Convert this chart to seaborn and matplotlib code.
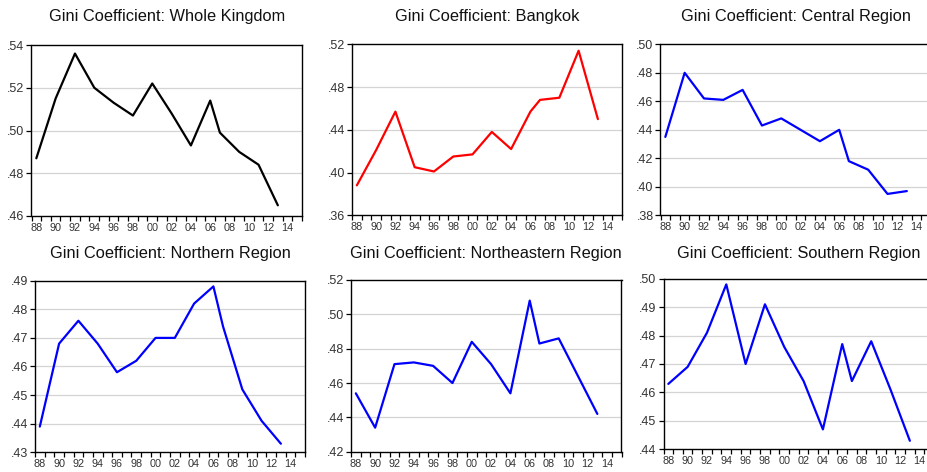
import matplotlib
matplotlib.use("Agg")
import matplotlib.pyplot as plt
import seaborn as sns
import pandas as pd
import numpy as np

sns.set_theme(style="white")
plt.rcParams['font.family'] = ['Liberation Sans', 'DejaVu Sans']

years = [1988, 1990, 1992, 1994, 1996, 1998, 2000, 2002, 2004, 2006, 2007, 2009, 2011, 2013]

whole_kingdom = [0.487, 0.515, 0.536, 0.520, 0.513, 0.507, 0.522, 0.508, 0.493, 0.514, 0.499, 0.490, 0.484, 0.465]
bangkok = [0.388, 0.421, 0.457, 0.405, 0.401, 0.415, 0.417, 0.438, 0.422, 0.457, 0.468, 0.470, 0.514, 0.450]
central = [0.435, 0.480, 0.462, 0.461, 0.468, 0.443, 0.448, 0.440, 0.432, 0.440, 0.418, 0.412, 0.395, 0.397]
northern = [0.439, 0.468, 0.476, 0.468, 0.458, 0.462, 0.470, 0.470, 0.482, 0.488, 0.474, 0.452, 0.441, 0.433]
northeastern = [0.454, 0.434, 0.471, 0.472, 0.470, 0.460, 0.484, 0.471, 0.454, 0.508, 0.483, 0.486, 0.464, 0.442]
southern = [0.463, 0.469, 0.481, 0.498, 0.470, 0.491, 0.476, 0.464, 0.447, 0.477, 0.464, 0.478, 0.461, 0.443]

titles = ["Gini Coefficient: Whole Kingdom", "Gini Coefficient: Bangkok",
          "Gini Coefficient: Central Region", "Gini Coefficient: Northern Region",
          "Gini Coefficient: Northeastern Region", "Gini Coefficient: Southern Region"]
series = [whole_kingdom, bangkok, central, northern, northeastern, southern]
colors = ["black", "#ff0000", "#0000ff", "#0000ff", "#0000ff", "#0000ff"]
y_ticks = [
    [0.46, 0.48, 0.50, 0.52, 0.54],
    [0.36, 0.40, 0.44, 0.48, 0.52],
    [0.38, 0.40, 0.42, 0.44, 0.46, 0.48, 0.50],
    [0.43, 0.44, 0.45, 0.46, 0.47, 0.48, 0.49],
    [0.42, 0.44, 0.46, 0.48, 0.50, 0.52],
    [0.44, 0.45, 0.46, 0.47, 0.48, 0.49, 0.50],
]
x_labels = ["88", "90", "92", "94", "96", "98", "00", "02", "04", "06", "08", "10", "12", "14"]
x_label_pos = list(range(1988, 2015, 2))

W, H = 928, 472
# (left, right, top, bottom) in pixels
boxes = [
    (31.5, 302, 45, 216),
    (352, 622, 44.3, 215.3),
    (660.5, 931, 44.3, 215.3),
    (35, 305, 280.7, 452.3),
    (351, 621.5, 280, 451.7),
    (663.5, 934, 278.7, 449.3),
]
title_y = [16, 16, 16, 253.5, 253.5, 253.5]

fig = plt.figure(figsize=(W / 100, H / 100), dpi=100)
fig.patch.set_facecolor("white")

for i in range(6):
    l, r, t, b = boxes[i]
    ax = fig.add_axes([l / W, 1 - b / H, (r - l) / W, (b - t) / H])
    df = pd.DataFrame({"year": years, "gini": series[i]})
    sns.lineplot(data=df, x="year", y="gini", ax=ax, color=colors[i], linewidth=1.6)
    ax.set_xlim(1987.5, 2015.5)
    yt = y_ticks[i]
    ax.set_ylim(yt[0], yt[-1])
    ax.set_yticks(yt)
    ax.set_yticklabels([("%.2f" % v)[1:] for v in yt])
    ax.set_xticks(x_label_pos)
    ax.set_xticklabels(x_labels)
    ax.set_xticks(np.arange(1987.5, 2016, 1.0), minor=True)
    ax.tick_params(axis="x", which="major", length=0, labelsize=7.8, pad=5, labelcolor="#333333")
    ax.tick_params(axis="x", which="minor", length=3.5, width=0.9, direction="out", bottom=True, color="black")
    ax.tick_params(axis="y", which="major", length=3.5, width=0.9, direction="out", left=True,
                   labelsize=9, pad=1.5, color="black", labelcolor="#333333")
    ax.set_xlabel("")
    ax.set_ylabel("")
    for s in ax.spines.values():
        s.set_color("black")
        s.set_linewidth(1.0)
        s.set_visible(True)
    ax.grid(False)
    for v in yt[1:-1]:
        ax.axhline(v, color="#d4d4d4", linewidth=0.9, zorder=0)
    ax.set_facecolor("white")
    cx = (l + r) / 2
    fig.text(cx / W, 1 - title_y[i] / H, titles[i], ha="center", va="center", fontsize=11.8, color="#111111")

fig.savefig("out.png", dpi=100)
